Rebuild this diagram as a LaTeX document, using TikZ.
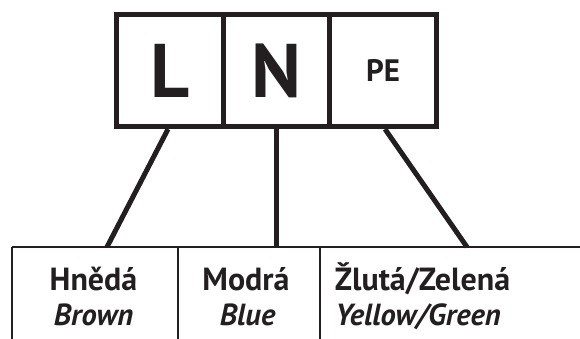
\documentclass[tikz,border=0pt]{standalone}
\usepackage{fontspec}
\setmainfont{PT Sans}
\definecolor{ink}{HTML}{231F20}
\begin{document}
\begin{tikzpicture}[x=1pt,y=-1pt,
  termbox/.style={draw=ink, line width=5.2pt, minimum width=106.5pt, minimum height=112pt, inner sep=0pt, text=ink, font=\bfseries},
  wire/.style={draw=ink, line width=5pt},
  grid/.style={draw=ink, line width=1.8pt},
  colname/.style={anchor=base, text=ink, inner sep=0pt, font=\fontsize{32}{32}\selectfont\bfseries},
  colsub/.style={anchor=base, text=ink, inner sep=0pt, font=\fontsize{30.5}{30.5}\selectfont\bfseries\itshape}]
\useasboundingbox (0,0) rectangle (580,339);
% terminal boxes
\node[termbox, font=\fontsize{76}{76}\selectfont\bfseries] (L) at (170,70.5) {L};
\node[termbox, font=\fontsize{76}{76}\selectfont\bfseries] (N) at (276.4,70.5) {N};
\node[termbox, font=\fontsize{31}{31}\selectfont\bfseries] (PE) at (383,70.5) {PE};
% table
\coordinate (tl) at (12,247);
\coordinate (tr) at (580,247);
\coordinate (b1) at (12,339);
\coordinate (d1) at (178,247);
\coordinate (d1b) at (178,339);
\coordinate (d2) at (320,247);
\coordinate (d2b) at (320,339);
\draw[grid] (tl) -- (tr);
\draw[grid] (tl) -- (b1);
\draw[grid] (d1) -- (d1b);
\draw[grid] (d2) -- (d2b);
% wire ends
\coordinate (wL) at (107,247);
\coordinate (wN) at (276.4,247);
\coordinate (wPE) at (467,247);
\draw[wire] ([xshift=-2pt]L.south) -- (wL);
\draw[wire] (N.south) -- (wN);
\draw[wire] ([xshift=2pt]PE.south) -- (wPE);
% labels
\node[colname] (hn) at (93.5,290) {Hnědá};
\node[colname] (mo) at (246,290) {Modrá};
\node[colname] (zl) at (422.5,290) {Žlutá/Zelená};
\node[colsub] (br) at (93.5,325) {Brown};
\node[colsub] (bl) at (247.5,325) {Blue};
\node[colsub] (yg) at (418,325) {Yellow/Green};
\end{tikzpicture}
\end{document}
